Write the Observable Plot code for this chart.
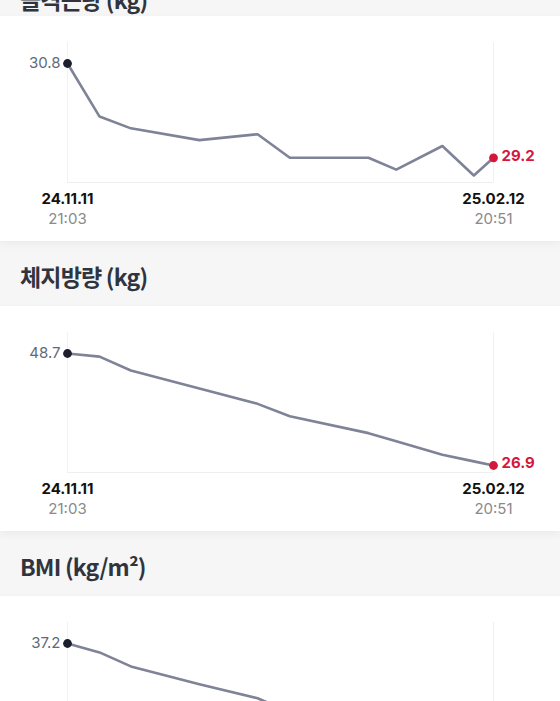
<!DOCTYPE html>
<html><head><meta charset="utf-8">
<script src="https://cdn.jsdelivr.net/npm/d3@7"></script>
<script src="https://cdn.jsdelivr.net/npm/@observablehq/plot@0.6"></script>
<style>
html,body{margin:0;padding:0;background:#f6f6f6;}
body{width:560px;overflow:hidden;}
.head{position:relative;height:65px;background:#f6f6f6;}
.head.top{height:16px;overflow:hidden;}
.title{position:absolute;left:20px;top:24px;font-family:"Noto Sans CJK KR";font-weight:700;font-size:23px;line-height:23px;color:#30343f;letter-spacing:-0.8px;white-space:nowrap;}
.head.top .title{top:-12px;}
.card{background:#fff;height:225px;box-shadow:0 3px 8px rgba(0,0,0,0.05);position:relative;z-index:1;}
.card svg{display:block;}
</style></head>
<body>
<div id="root"></div>
<script>
// measurement times (estimated between the labelled first and last)
const dates = ["2024-11-11T21:03","2024-11-18T21:00","2024-11-25T17:00","2024-12-10T16:00","2024-12-23T09:00","2024-12-30T09:45","2025-01-16T13:50","2025-01-22T15:30","2025-02-01T17:00","2025-02-08T13:50","2025-02-12T20:51"];
const muscle = [30.8, 29.9, 29.7, 29.5, 29.6, 29.2, 29.2, 29.0, 29.4, 28.9, 29.2];
const fat    = [48.7, 48.1, 45.4, 41.9, 38.9, 36.5, 33.2, 31.6, 29.0, 27.7, 26.9];
const bmi    = [37.2, 36.5, 35.4, 34.0, 32.9, 31.8, 30.6, 30.0, 29.3, 28.8, 28.4];
const titles = ["골격근량 (kg)", "체지방량 (kg)", "BMI (kg/m²)"];
const startLabels = ["24.11.11", "21:03"];
const endLabels = ["25.02.12", "20:51"];

const series = [muscle, fat, bmi];
const root = document.getElementById("root");
const numFont = "Inter, 'Liberation Sans', sans-serif";

series.forEach((vals, k) => {
  const head = document.createElement("div");
  head.className = k === 0 ? "head top" : "head";
  const tt = document.createElement("div");
  tt.className = "title";
  tt.textContent = titles[k];
  head.appendChild(tt);
  root.appendChild(head);

  const data = vals.map((v, i) => ({date: new Date(dates[i]), value: v}));
  const first = data[0], last = data[data.length - 1];
  const mn = d3.min(vals), mx = d3.max(vals), span = mx - mn;
  const lo = mn - span * 0.0625, hi = mx + span * 0.1875;

  const chart = Plot.plot({
    width: 560, height: 225,
    marginLeft: 67, marginRight: 67, marginTop: 26, marginBottom: 59,
    x: {type: "time", domain: [first.date, last.date], axis: null},
    y: {domain: [lo, hi], axis: null},
    style: {background: "#fff", overflow: "visible"},
    marks: [
      Plot.ruleX([first.date, last.date], {stroke: "#f1f1f3", strokeWidth: 1}),
      Plot.ruleY([lo], {stroke: "#efeff1", strokeWidth: 1}),
      Plot.line(data, {x: "date", y: "value", stroke: "#7e8397", strokeWidth: 2.6, strokeLinejoin: "round"}),
      Plot.dot([first], {x: "date", y: "value", r: 4.4, fill: "#1b1f2d"}),
      Plot.dot([last], {x: "date", y: "value", r: 4.4, fill: "#d5173d"}),
      Plot.text([first], {x: "date", y: "value", text: d => d.value.toFixed(1), textAnchor: "end", dx: -7, fontSize: 15, fill: "#5d6a7b", fontFamily: numFont}),
      Plot.text([last], {x: "date", y: "value", text: d => d.value.toFixed(1), textAnchor: "start", dx: 8, dy: -2, fontSize: 15, fontWeight: 700, fill: "#d5173d", fontFamily: numFont}),
      Plot.text([first.date, last.date], {x: d => d, frameAnchor: "bottom", lineAnchor: "middle", dy: 17, text: (d, i) => i === 0 ? startLabels[0] : endLabels[0], fontSize: 15, fontWeight: 700, fill: "#111", fontFamily: numFont}),
      Plot.text([first.date, last.date], {x: d => d, frameAnchor: "bottom", lineAnchor: "middle", dy: 37, text: (d, i) => i === 0 ? startLabels[1] : endLabels[1], fontSize: 15, fill: "#8a8a8a", fontFamily: numFont})
    ]
  });
  const card = document.createElement("div");
  card.className = "card";
  card.appendChild(chart);
  root.appendChild(card);
});
</script>
</body></html>
